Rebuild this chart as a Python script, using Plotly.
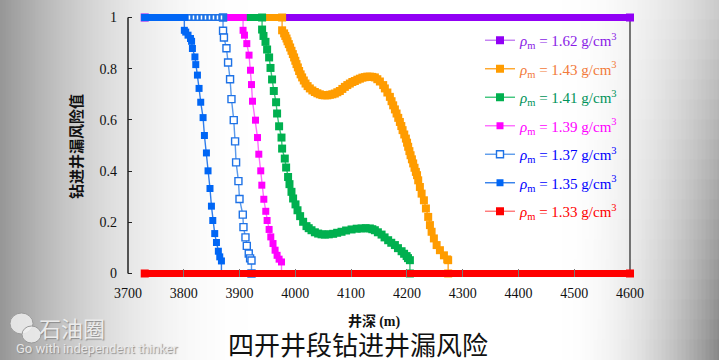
import plotly.graph_objects as go

# ---------------- data ----------------
densities = ["1.62", "1.43", "1.41", "1.39", "1.37", "1.35", "1.33"]

PLATEAU_START = 3730   # first drilled depth (risk plateau start)
PLATEAU_END = 4600

# rho = 1.62 : risk = 1 along the whole interval
depth_162 = [3730, 4600]
risk_162 = [1.0, 1.0]

# rho = 1.43
depth_143 = [3976.3, 3976.3, 3979.9, 3982, 3984.2, 3986, 3988.3, 3990.7, 3993.1, 3995.5, 3997.8,
             4000, 4002.1, 4004.5, 4006.8, 4009.5, 4012.2, 4015.2, 4018.3, 4022, 4026, 4030.5,
             4035, 4039.5, 4043.9, 4048.4, 4052.9, 4057.4, 4061.9, 4066.4, 4070.8, 4075.3,
             4079.8, 4084.3, 4088.8, 4093.2, 4097.7, 4102.2, 4106.7, 4111.2, 4115.7, 4120.2,
             4124.6, 4129, 4133.6, 4138, 4142.6, 4147, 4151.6, 4157.5, 4160.5, 4165, 4169.5,
             4172.5, 4175.4, 4178.5, 4181.5, 4184.5, 4187.4, 4190, 4192.3, 4195.3, 4198.2,
             4200.3, 4202.3, 4204.5, 4206.6, 4209, 4211.3, 4213.7, 4216.1, 4218.2, 4220.3,
             4223.3, 4226.4, 4230.5, 4234.1, 4238.2, 4241.3, 4244.3, 4248.4, 4253.3, 4259.2,
             4266.4, 4272.3, 4274, 4274]
risk_143 = [1.0, 0.950, 0.938, 0.928, 0.918, 0.907, 0.896, 0.883, 0.870, 0.857, 0.844,
            0.831, 0.818, 0.805, 0.791, 0.778, 0.766, 0.754, 0.742, 0.732, 0.723, 0.715,
            0.709, 0.704, 0.700, 0.697, 0.696, 0.696, 0.698, 0.700, 0.703, 0.708,
            0.713, 0.721, 0.729, 0.736, 0.742, 0.748, 0.752, 0.757, 0.761, 0.765,
            0.767, 0.769, 0.769, 0.768, 0.766, 0.759, 0.750, 0.736, 0.723, 0.707, 0.690,
            0.673, 0.657, 0.641, 0.625, 0.608, 0.592, 0.576, 0.560, 0.543, 0.527,
            0.511, 0.495, 0.478, 0.462, 0.446, 0.430, 0.413, 0.397, 0.384, 0.364,
            0.338, 0.312, 0.286, 0.254, 0.221, 0.189, 0.163, 0.137, 0.111, 0.091,
            0.071, 0.055, 0.052, 0.0]

# rho = 1.41
depth_141 = [3940.4, 3940.4, 3942.9, 3946.5, 3949.4, 3953, 3955.5, 3958.3, 3961.4, 3965.5, 3967.3,
             3970.9, 3975.2, 3976.3, 3981.1, 3983.5, 3987, 3989.5, 3993.1, 3996, 4000.3, 4003.9,
             4008.6, 4014, 4020, 4024, 4029, 4035, 4040.9, 4047, 4052.9, 4060, 4067.8, 4075,
             4082.8, 4091, 4100.8, 4110, 4118.7, 4126, 4133.6, 4138, 4142.6, 4148, 4154.6, 4160,
             4166.4, 4172, 4178.5, 4184, 4190.5, 4195, 4199.5, 4202, 4205.4, 4205.4]
risk_141 = [1.0, 0.953, 0.928, 0.905, 0.875, 0.844, 0.803, 0.758, 0.713, 0.669, 0.625,
            0.575, 0.531, 0.488, 0.449, 0.414, 0.377, 0.349, 0.319, 0.293, 0.270, 0.247,
            0.224, 0.202, 0.185, 0.177, 0.169, 0.161, 0.156, 0.153, 0.152, 0.153, 0.155, 0.159,
            0.163, 0.168, 0.172, 0.175, 0.176, 0.177, 0.176, 0.173, 0.169, 0.161, 0.152, 0.141,
            0.130, 0.120, 0.111, 0.099, 0.087, 0.077, 0.068, 0.060, 0.052, 0.0]

# rho = 1.39
depth_139 = [3906.3, 3906.3, 3908.8, 3913, 3917, 3919.6, 3921.4, 3923.2, 3928.6, 3932.2, 3934.5,
             3938, 3939.9, 3943.5, 3947, 3949.4, 3953, 3956, 3960, 3963.7, 3967.3, 3970.9,
             3975.2, 3975.2]
risk_139 = [1.0, 0.950, 0.931, 0.898, 0.853, 0.794, 0.738, 0.673, 0.599, 0.531, 0.466,
            0.401, 0.345, 0.290, 0.243, 0.207, 0.172, 0.143, 0.117, 0.091, 0.071, 0.056,
            0.045, 0.0]

# rho = 1.37
depth_137 = [3870.4, 3870.4, 3872, 3876.5, 3879.4, 3883, 3885.5, 3889.6, 3892, 3893.8, 3898,
             3899.9, 3905.8, 3907, 3910.6, 3913, 3916.5, 3918.9, 3921.4, 3921.4]
risk_137 = [1.0, 0.948, 0.922, 0.880, 0.824, 0.759, 0.681, 0.599, 0.516, 0.434, 0.361,
            0.291, 0.230, 0.181, 0.141, 0.108, 0.078, 0.059, 0.051, 0.0]

# rho = 1.35
depth_135 = [3801, 3801, 3803.5, 3807.6, 3812, 3814, 3815.5, 3820, 3821.5, 3824.5, 3827.4,
             3830.4, 3834.6, 3837, 3840.6, 3843.5, 3847, 3849.6, 3852, 3855.5, 3858.6, 3862,
             3864.5, 3867.5, 3867.5]
risk_135 = [1.0, 0.950, 0.943, 0.931, 0.918, 0.907, 0.879, 0.846, 0.816, 0.775, 0.723,
            0.669, 0.609, 0.539, 0.471, 0.401, 0.332, 0.263, 0.207, 0.156, 0.121, 0.087,
            0.065, 0.049, 0.0]

# rho = 1.33 : risk = 0 along the whole interval
depth_133 = [3730, 4600]
risk_133 = [0.0, 0.0]

x_ticks = [3700, 3800, 3900, 4000, 4100, 4200, 4300, 4400, 4500, 4600]
y_ticks = [0, 0.2, 0.4, 0.6, 0.8, 1]

SERIF = "Liberation Serif, Times New Roman, serif"

# ---------------- styles ----------------
series = [
    # density, depth, risk, marker colour, line colour, text colour, open marker, plateau value
    ("1.62", depth_162, risk_162, "#9100F5", "#C27EF2", "#8A1CE6", False, 1.0),
    ("1.43", depth_143, risk_143, "#FF9C00", "#FFA526", "#F27A3A", False, 1.0),
    ("1.41", depth_141, risk_141, "#00B04F", "#3CC47A", "#00935A", False, 1.0),
    ("1.39", depth_139, risk_139, "#FF00FF", "#FF6BFF", "#FF00FF", False, 1.0),
    ("1.37", depth_137, risk_137, "#1E72E6", "#5B9AEB", "#0000FF", True, 1.0),
    ("1.35", depth_135, risk_135, "#0066F5", "#2F7DEB", "#0000FF", False, 1.0),
    ("1.33", depth_133, risk_133, "#FF0000", "#FF7777", "#FF0000", False, 0.0),
]

fig = go.Figure()
for dens, dep, rsk, mcol, lcol, tcol, is_open, plateau in series:
    name = (f'<span style="color:{tcol}"><i>ρ</i><sub>m</sub> = {dens} g/cm<sup>3</sup></span>')
    marker = dict(symbol="square", size=7 if dens in ("1.35", "1.37", "1.39") else 8,
                  color="white" if is_open else mcol,
                  line=dict(color=mcol, width=1.4 if is_open else 0))
    fig.add_trace(go.Scatter(
        x=dep, y=rsk, mode="lines+markers", name=name, legendgroup=dens,
        line=dict(color=lcol, width=1.4), marker=marker, cliponaxis=False))
    # thick plateau band (dense markers in the original)
    if dens in ("1.62", "1.33"):
        bx = [dep[0], dep[-1]]
    else:
        bx = [PLATEAU_START, dep[0]]
    fig.add_trace(go.Scatter(
        x=bx, y=[plateau, plateau], mode="lines+markers", showlegend=False,
        legendgroup=dens, hoverinfo="skip", cliponaxis=False,
        line=dict(color=mcol, width=7),
        marker=dict(symbol="square", size=7, color=mcol, line=dict(width=0))))
    if is_open:
        fig.add_trace(go.Scatter(
            x=bx, y=[plateau, plateau], mode="lines", showlegend=False,
            legendgroup=dens, hoverinfo="skip",
            line=dict(color="white", width=4, dash="1.5px,2.5px")))

# ---------------- layout helpers ----------------
L, R, T, B = 128, 89, 14, 83
W, H = 719, 360
PW, PH = W - L - R, H - T - B


def px(x):
    return (x - L) / PW


def py(y):
    return (H - B - y) / PH


def gray_at(x, y):
    d = 0.0
    if x < 250:
        d += ((250 - x) / 250) ** 2 * 105
    if x > 560:
        d += ((x - 560) / 159) ** 2 * (50 + 70 * y / 360)
    v = int(max(0, min(255, 255 - d)))
    return f"rgb({v},{v},{v})"


shapes = []
# left vignette: thin full-height strips
for i in range(0, 252, 3):
    shapes.append(dict(type="rect", xref="paper", yref="paper", layer="below",
                       x0=px(i - 0.5), x1=px(i + 3.5), y0=py(H + 1), y1=py(-1),
                       line=dict(width=0), fillcolor=gray_at(i + 1.5, 180)))
# right vignette: small cells (darker towards bottom)
cw, ch = 4, 20
for i in range(558, W, cw):
    for j in range(0, H, ch):
        shapes.append(dict(type="rect", xref="paper", yref="paper", layer="below",
                           x0=px(i - 0.5), x1=px(i + cw + 0.5), y0=py(j + ch + 0.5), y1=py(j - 0.5),
                           line=dict(width=0), fillcolor=gray_at(i + cw / 2, j + ch / 2)))
# axis frame lines (left axis and right border, from 0 to 1)
shapes.append(dict(type="line", xref="paper", yref="y", x0=0, x1=0, y0=0, y1=1,
                   line=dict(color="#222", width=1.5), layer="below"))
shapes.append(dict(type="line", xref="paper", yref="y", x0=1, x1=1, y0=0, y1=1,
                   line=dict(color="#222", width=1.2), layer="below"))
# WeChat-like watermark bubbles
shapes.append(dict(type="circle", xref="paper", yref="paper", layer="above",
                   x0=px(10), x1=px(33), y0=py(334), y1=py(313),
                   fillcolor="rgba(240,240,240,0.85)", line=dict(color="#9a9a9a", width=1)))
shapes.append(dict(type="circle", xref="paper", yref="paper", layer="above",
                   x0=px(22), x1=px(41), y0=py(343), y1=py(326),
                   fillcolor="rgba(240,240,240,0.85)", line=dict(color="#9a9a9a", width=1)))


def ann(text, x, y, font, **kw):
    d = dict(text=text, x=px(x), y=py(y), xref="paper", yref="paper", showarrow=False,
             xanchor="center", yanchor="middle", font=font)
    d.update(kw)
    return d


annotations = [
    ann("<b>钻进井漏风险值</b>", 75, 147,
        dict(family="Noto Sans CJK SC", size=15, color="#111"), textangle=-90),
    ann('<b>井深 <span style="font-family:Liberation Serif, Times New Roman, serif">(m)</span></b>',
        374, 320, dict(family="Noto Sans CJK SC", size=14, color="#111")),
    ann("四开井段钻进井漏风险", 358, 343,
        dict(family="Noto Sans CJK SC", size=26, color="#111")),
    ann("石油圈", 72, 327,
        dict(family="Noto Sans CJK SC", size=22, color="rgba(240,240,240,0.95)",
             shadow="1px 1px 1px #888")),
    ann("Go with independent thinker", 97, 348,
        dict(family="Roboto", size=13, color="rgba(236,236,236,0.95)",
             shadow="1px 1px 1px #888")),
]

ext = 0.0137
fig.update_layout(
    width=W, height=H,
    margin=dict(l=L, r=R, t=T, b=B, pad=0, autoexpand=False),
    paper_bgcolor="white",
    plot_bgcolor="rgba(0,0,0,0)",
    shapes=shapes,
    annotations=annotations,
    showlegend=True,
    legend=dict(x=px(480), y=py(24), xanchor="left", yanchor="top",
                bgcolor="rgba(0,0,0,0)", borderwidth=0, tracegroupgap=6,
                font=dict(family=SERIF, size=15), itemwidth=30),
    xaxis=dict(range=[3700, 4600], tickvals=x_ticks, ticks="inside", ticklen=8,
               tickcolor="#777", tickwidth=1, showline=False, showgrid=False, zeroline=False,
               ticklabelstandoff=6, automargin=False,
               tickfont=dict(family=SERIF, size=14, color="#111")),
    yaxis=dict(range=[-ext, 1 + ext], tickvals=y_ticks, ticks="inside", ticklen=4,
               tickcolor="#222", tickwidth=1, showline=False, showgrid=False, zeroline=False,
               ticklabelstandoff=10, automargin=False,
               tickfont=dict(family=SERIF, size=14, color="#111")),
)

fig.write_html("out.html", config={"displayModeBar": False, "staticPlot": True},
               post_script="document.body.style.margin='0';document.body.style.overflow='hidden';")
